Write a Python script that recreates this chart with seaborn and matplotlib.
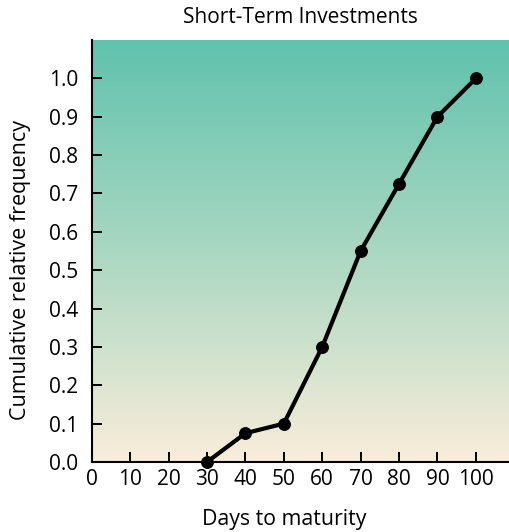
import numpy as np
import pandas as pd
import matplotlib
matplotlib.use("Agg")
import matplotlib.pyplot as plt
from matplotlib.colors import LinearSegmentedColormap
import seaborn as sb

days = [30, 40, 50, 60, 70, 80, 90, 100]
cum_rel_freq = [0.0, 0.075, 0.1, 0.3, 0.55, 0.725, 0.9, 1.0]
x_ticks = [0, 10, 20, 30, 40, 50, 60, 70, 80, 90, 100]
y_ticks = [0.0, 0.1, 0.2, 0.3, 0.4, 0.5, 0.6, 0.7, 0.8, 0.9, 1.0]

df = pd.DataFrame({"days": days, "freq": cum_rel_freq})

sb.set_style("ticks")
plt.rcParams["font.family"] = ["Open Sans", "DejaVu Sans"]
plt.rcParams["text.color"] = "black"
plt.rcParams["axes.labelcolor"] = "black"
plt.rcParams["xtick.color"] = "black"
plt.rcParams["ytick.color"] = "black"

fig = plt.figure(figsize=(5.1, 5.32), dpi=100)
ax = fig.add_axes([0.180, 0.1316, 0.820, 0.7932])

# background gradient: cream at bottom -> teal at top
cmap = LinearSegmentedColormap.from_list("bg", ["#f9edda", "#aad7c2", "#5fc2ad"])
grad = np.linspace(0, 1, 256).reshape(-1, 1)
ax.imshow(grad, cmap=cmap, origin="lower", extent=[0, 1, 0, 1],
          transform=ax.transAxes, aspect="auto", zorder=0)

sb.lineplot(data=df, x="days", y="freq", ax=ax, color="black", linewidth=3,
            marker="o", markersize=8.5, markeredgecolor="black", zorder=3,
            clip_on=False)

xmax, ymax = 108.9, 1.1
ax.set_xlim(0, xmax)
ax.set_ylim(0, ymax)
ax.set_xticks(x_ticks)
ax.set_yticks(y_ticks)
ax.set_yticklabels([f"{v:.1f}" for v in y_ticks])
ax.tick_params(direction="in", length=7.5, width=1.4, labelsize=15)
ax.tick_params(axis="x", pad=5)
ax.tick_params(axis="y", pad=10)
for s in ["top", "right"]:
    ax.spines[s].set_visible(False)
for s in ["left", "bottom"]:
    ax.spines[s].set_linewidth(1.5)
    ax.spines[s].set_color("black")

# axis labels are centred on the 0-100 / 0-1 data range, not the whole axes
ax.set_xlabel("Days to maturity", fontsize=15.3)
ax.xaxis.set_label_coords(50 / xmax, -0.112)
ax.set_ylabel("Cumulative relative frequency", fontsize=15.5)
ax.yaxis.set_label_coords(-0.146, 0.5 / ymax)
ax.set_title("Short-Term Investments", fontsize=15, pad=12)

plt.savefig("out.png", dpi=100)
